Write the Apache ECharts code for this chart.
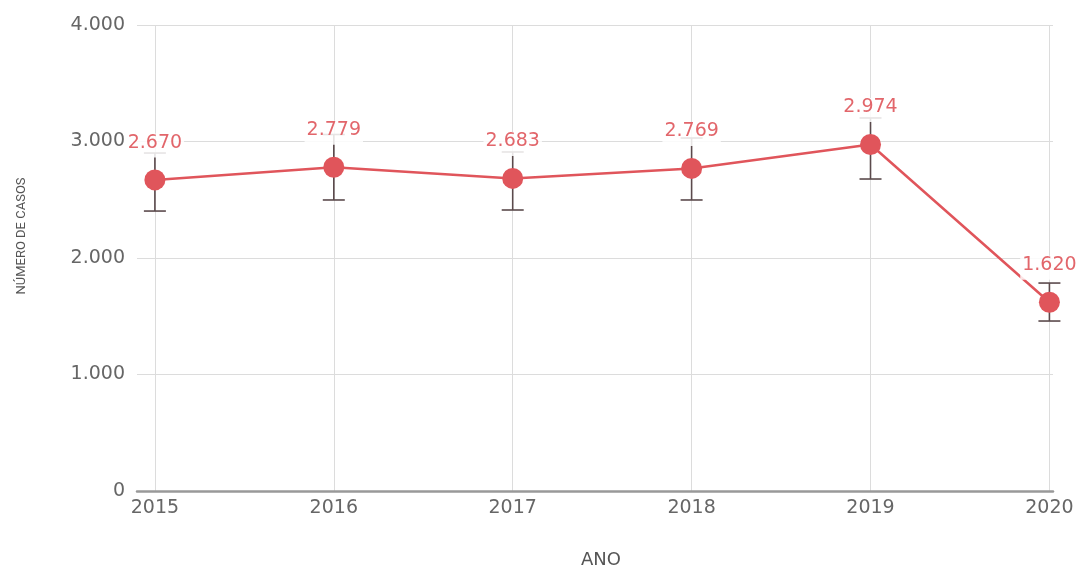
<!DOCTYPE html>
<html>
<head>
<meta charset="utf-8">
<script src="https://cdn.jsdelivr.net/npm/echarts@6/dist/echarts.min.js"></script>
<style>
  html, body { margin: 0; padding: 0; background: #fff; }
  #chart { width: 1078px; height: 567px; }
</style>
</head>
<body>
<div id="chart"></div>
<script>
// anos e casos
const years = [2015, 2016, 2017, 2018, 2019, 2020];
const cases = [2670, 2779, 2683, 2769, 2974, 1620];
// barras de erro
const errLow = [2403, 2498, 2412, 2498, 2678, 1459];
const errHigh = [2901, 3060, 2910, 3030, 3202, 1785];

const lineColor = '#e0555b';
const errColor = '#5b4a4c';
const txtFont = 'DejaVu Sans';

function fmtBR(v) {
  return String(v).replace(/\B(?=(\d{3})+(?!\d))/g, '.');
}

const chart = echarts.init(document.getElementById('chart'), null, { renderer: 'canvas' });

let option = {
  animation: false,
  backgroundColor: '#fff',
  grid: { left: 137, right: 25, top: 25, bottom: 76, containLabel: false },
  // titulos dos eixos
  graphic: [
    {
      type: 'text',
      x: 22, y: 236,
      rotation: Math.PI / 2,
      style: {
        text: 'NÚMERO DE CASOS',
        fill: '#555', font: '13px Roboto',
        align: 'center', verticalAlign: 'middle'
      }
    },
    {
      type: 'text',
      x: 601, y: 560,
      style: {
        text: 'ANO',
        fill: '#555', font: '18px "DejaVu Sans"',
        align: 'center', verticalAlign: 'middle'
      }
    }
  ],
  xAxis: {
    type: 'value',
    min: 2014.9,
    max: 2020.02,
    axisLine: { show: true, lineStyle: { color: '#999', width: 2.5 } },
    axisTick: { show: false, customValues: years },
    axisLabel: {
      customValues: years,
      color: '#666', fontSize: 19, fontFamily: txtFont, margin: 8,
      formatter: v => String(Math.round(v))
    },
    splitLine: { show: true, lineStyle: { color: '#dcdcdc', width: 1 } }
  },
  yAxis: {
    type: 'value',
    min: 0,
    max: 4000,
    interval: 1000,
    axisLine: { show: false },
    axisTick: { show: false },
    axisLabel: {
      color: '#666', fontSize: 19, fontFamily: txtFont, margin: 12,
      formatter: v => fmtBR(v)
    },
    splitLine: { show: true, lineStyle: { color: '#dcdcdc', width: 1 } }
  },
  series: [
    {
      name: 'erro',
      type: 'custom',
      z: 1,
      data: years.map((y, i) => [y, errLow[i], errHigh[i]]),
      renderItem: function (params, api) {
        const x = api.value(0);
        const lo = api.coord([x, api.value(1)]);
        const hi = api.coord([x, api.value(2)]);
        const w = 11;
        const style = { stroke: errColor, lineWidth: 1.6 };
        return {
          type: 'group',
          children: [
            { type: 'line', shape: { x1: lo[0], y1: lo[1], x2: hi[0], y2: hi[1] }, style: style },
            { type: 'line', shape: { x1: lo[0] - w, y1: lo[1], x2: lo[0] + w, y2: lo[1] }, style: style },
            { type: 'line', shape: { x1: hi[0] - w, y1: hi[1], x2: hi[0] + w, y2: hi[1] }, style: style }
          ]
        };
      }
    },
    {
      name: 'casos',
      type: 'line',
      z: 3,
      data: years.map((y, i) => [y, cases[i]]),
      symbol: 'circle',
      symbolSize: 21,
      lineStyle: { color: lineColor, width: 2.5 },
      itemStyle: { color: lineColor },
      label: {
        show: true,
        position: 'top',
        distance: 12,
        color: '#e2666b',
        fontSize: 19,
        fontFamily: txtFont,
        backgroundColor: 'rgba(255,255,255,0.85)',
        padding: [0, 2, 5, 2],
        formatter: p => fmtBR(p.value[1])
      }
    }
  ]
};

chart.setOption(option);
</script>
</body>
</html>
